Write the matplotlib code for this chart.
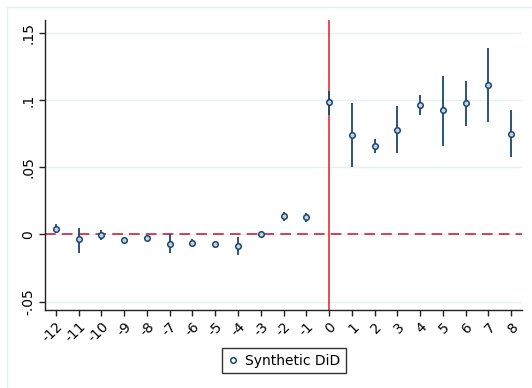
import matplotlib
matplotlib.use("Agg")
import matplotlib.pyplot as plt
import numpy as np
from matplotlib.patches import Rectangle
from matplotlib.lines import Line2D

# event time, point estimate and 95% CI
periods = [-12, -11, -10, -9, -8, -7, -6, -5, -4, -3, -2, -1, 0, 1, 2, 3, 4, 5, 6, 7, 8]
estimate = [0.004, -0.0033, -0.0004, -0.0044, -0.0026, -0.007, -0.006, -0.007, -0.0084, 0.0,
            0.0135, 0.0128, 0.0985, 0.074, 0.066, 0.078, 0.0965, 0.0924, 0.0977, 0.111, 0.075]
ci_low = [0.0008, -0.014, -0.004, -0.0055, -0.0032, -0.0135, -0.0085, -0.0078, -0.015, -0.0005,
          0.010, 0.0095, 0.089, 0.050, 0.061, 0.0604, 0.089, 0.066, 0.081, 0.084, 0.0577]
ci_high = [0.0077, 0.0048, 0.003, -0.0033, -0.002, 0.0, -0.0035, -0.0062, -0.0018, 0.0005,
           0.017, 0.016, 0.107, 0.0977, 0.071, 0.0955, 0.1036, 0.118, 0.114, 0.139, 0.0926]
y_ticks = [-0.05, 0, 0.05, 0.1, 0.15]
y_labels = ["-.05", "0", ".05", ".1", ".15"]

navy = "#1a476f"

fig = plt.figure(figsize=(5.32, 3.88), dpi=100)
# faint outer frame; only its top and left edges fall inside the image
fig.patches.append(Rectangle((6.5 / 532, -10 / 388), 540 / 532, 391 / 388, transform=fig.transFigure,
                             fill=False, edgecolor="#e6eef0", linewidth=1))
ax = fig.add_axes([45 / 532, 1 - 310 / 388, 477 / 532, 290 / 388])

x = np.array(periods)
est = np.array(estimate)
ax.vlines(x, ci_low, ci_high, color=navy, linewidth=1.3, zorder=3)
ax.plot(x, est, linestyle="none", marker="o", markersize=4, markerfacecolor="#c7d3df",
        markeredgecolor=navy, markeredgewidth=1.1, zorder=4)

ax.axhline(0, color="#c8102e", linewidth=1.1, dashes=(7, 4), zorder=2)
ax.axvline(0, color="#e8191e", linewidth=1.1, zorder=2)

ax.set_xlim(-12.48, 8.48)
ax.set_ylim(-0.0562, 0.1596)
ax.set_yticks(y_ticks)
ax.set_yticklabels(y_labels, rotation=90, va="center", fontsize=10)
ax.set_xticks(periods)
ax.set_xticklabels([str(p) for p in periods], rotation=45, ha="right", va="top",
                   rotation_mode="anchor", fontsize=10)
ax.grid(axis="y", color="#e9f0f2", linewidth=1)
ax.set_axisbelow(True)
for side in ["top", "right"]:
    ax.spines[side].set_visible(False)
for side in ["left", "bottom"]:
    ax.spines[side].set_color("#222222")
    ax.spines[side].set_linewidth(1)
ax.tick_params(length=4, width=1, color="#222222", pad=3)

handle = Line2D([], [], linestyle="none", marker="o", markersize=4, markerfacecolor="white",
                markeredgecolor=navy, markeredgewidth=1.1)
fig.legend([handle], ["Synthetic DiD"], loc="center", bbox_to_anchor=(284 / 532, 1 - 360.5 / 388),
           frameon=True, fancybox=False, edgecolor="black", fontsize=10, handlelength=0.8,
           handletextpad=0.5, borderpad=0.4).get_frame().set_linewidth(1)

fig.savefig("out.png", dpi=100, facecolor="white")
